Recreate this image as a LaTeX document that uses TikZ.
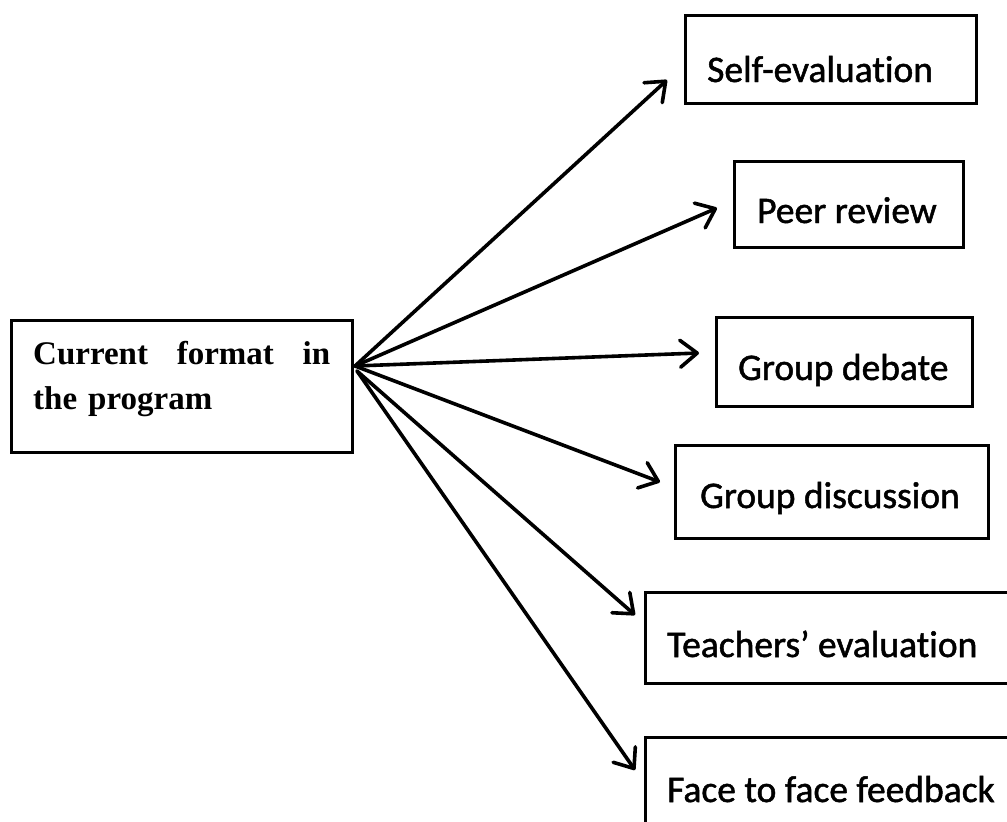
\documentclass[tikz,border=0pt]{standalone}
\usepackage{fontspec}
\setmainfont{Liberation Serif}
\newfontfamily\boxfont[FakeBold=1.3, Ligatures=NoCommon]{Carlito}
\usetikzlibrary{arrows.meta}

\tikzset{
  frame/.style={draw=black, line width=3pt, fill=none, inner sep=0pt},
  leadtext/.style={font=\fontsize{33}{45}\selectfont\bfseries, inner sep=0pt, anchor=base west},
  itemtext/.style={font=\boxfont\fontsize{37.5}{44}\selectfont, inner sep=0pt, anchor=base west},
  link/.style={line width=3.6pt, line cap=round,
    -{Straight Barb[length=17pt, width=27pt, line cap=round, line join=round]}},
}

\begin{document}
\begin{tikzpicture}[x=1pt, y=-1pt]
  \useasboundingbox (0,0) rectangle (1007,822);

  % source box
  \node[frame, minimum width=341pt, minimum height=132pt] (current) at (181.5,386) {};
  \node[leadtext, text width=297pt, align=left] (currentlabel) at (33,364)
    {Current\hfill format\hfill in\\the program};

  % target boxes
  \node[frame, minimum width=291pt, minimum height=88pt] (self) at (830.5,59) {};
  \node[itemtext] (selflabel) at (707,82) {Self-evaluation};

  \node[frame, minimum width=229pt, minimum height=86pt] (peer) at (848.5,204) {};
  \node[itemtext] (peerlabel) at (757,223) {Peer review};

  \node[frame, minimum width=256pt, minimum height=89pt] (debate) at (844,361.5) {};
  \node[itemtext] (debatelabel) at (738,380) {Group debate};

  \node[frame, minimum width=313pt, minimum height=93pt] (discussion) at (831.5,491.5) {};
  \node[itemtext] (discussionlabel) at (700,508) {Group discussion};

  \node[frame, minimum width=375pt, minimum height=91pt] (teachers) at (832.5,637.5) {};
  \node[itemtext] (teacherslabel) at (667,657) {Teachers’ evaluation};

  \node[frame, minimum width=375pt, minimum height=100pt] (face) at (832.5,787) {};
  \node[itemtext] (facelabel) at (667,802) {Face to face feedback};

  % hub on the right of the source box and arrow tips before each target
  \coordinate (hub) at (355,366);
  \coordinate (hublow) at (357,371);
  \coordinate (tself) at (667,80);
  \coordinate (tpeer) at (717,208);
  \coordinate (tdebate) at (699,353);
  \coordinate (tdiscussion) at (660,482);
  \coordinate (tteachers) at (635,615);
  \coordinate (tface) at (635,770);

  \draw[link] (hub) -- (tself);
  \draw[link] (hub) -- (tpeer);
  \draw[link] (hub) -- (tdebate);
  \draw[link] (hub) -- (tdiscussion);
  \draw[link] (hublow) -- (tteachers);
  \draw[link] (hublow) -- (tface);
\end{tikzpicture}
\end{document}
